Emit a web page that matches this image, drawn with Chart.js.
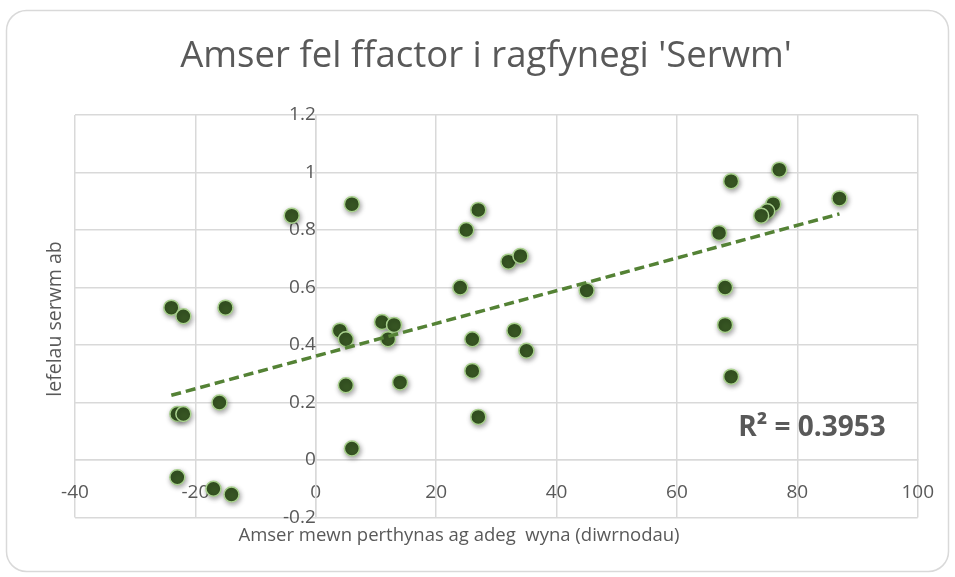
<!DOCTYPE html>
<html>
<head>
<meta charset="utf-8">
<title>Amser fel ffactor i ragfynegi 'Serwm'</title>
<script src="https://cdn.jsdelivr.net/npm/chart.js@4.4.1/dist/chart.umd.min.js"></script>
<style>
  html, body { margin: 0; padding: 0; background: #ffffff; }
  #wrap { position: relative; width: 955px; height: 577px; }
</style>
</head>
<body>
<div id="wrap"><canvas id="chart" width="955" height="577"></canvas></div>
<script>
// Text on the chart
const titleText = "Amser fel ffactor i ragfynegi 'Serwm'";
const xAxisTitle = 'Amser mewn perthynas ag adeg  wyna (diwrnodau)';
const yAxisTitle = 'lefelau serwm ab';
const rSquaredText = 'R\u00B2 = 0.3953';

// Days relative to lambing (x) and serum level (y)
const daysX = [-24, -22, -15, 4, 5, 5, -23, -22, -16, 6,
               -23, -17, -14, -4, 6, 27, 25, 32, 34, 24,
               45, 11, 13, 12, 26, 33, 35, 26, 14, 27,
               69, 77, 76, 75, 74, 87, 67, 68, 68, 69];
const serumY = [0.53, 0.50, 0.53, 0.45, 0.42, 0.26, 0.16, 0.16, 0.20, 0.04,
                -0.06, -0.10, -0.12, 0.85, 0.89, 0.87, 0.80, 0.69, 0.71, 0.60,
                0.59, 0.48, 0.47, 0.42, 0.42, 0.45, 0.38, 0.31, 0.27, 0.15,
                0.97, 1.01, 0.89, 0.865, 0.85, 0.91, 0.79, 0.60, 0.47, 0.29];

// Linear trendline end points
const trendX = [-24, 87];
const trendY = [0.225, 0.856];

// Tick labels
const xTickLabels = ['-40', '-20', '0', '20', '40', '60', '80', '100'];
const yTickLabels = ['-0.2', '0', '0.2', '0.4', '0.6', '0.8', '1', '1.2'];

const textColor = '#595959';
const gridColor = '#d9d9d9';
const fontFamily = "'Open Sans', 'DejaVu Sans', sans-serif";

const scatterPoints = daysX.map((x, i) => ({ x: x, y: serumY[i] }));
const trendPoints = trendX.map((x, i) => ({ x: x, y: trendY[i] }));

// White card with a rounded grey border behind everything
const cardPlugin = {
    id: 'card',
    beforeDraw(chart) {
        const ctx = chart.ctx;
        ctx.save();
        ctx.fillStyle = '#ffffff';
        ctx.fillRect(0, 0, chart.width, chart.height);
        ctx.beginPath();
        ctx.roundRect(6.5, 10.5, 942, 561, 20);
        ctx.strokeStyle = gridColor;
        ctx.lineWidth = 1.5;
        ctx.stroke();
        ctx.restore();
    }
};

// Soft drop shadow under the markers
const shadowPlugin = {
    id: 'markerShadow',
    beforeDatasetDraw(chart, args) {
        if (args.index !== 1) return;
        const ctx = chart.ctx;
        ctx.save();
        ctx.shadowColor = 'rgba(0, 0, 0, 0.35)';
        ctx.shadowBlur = 5;
        ctx.shadowOffsetX = 1;
        ctx.shadowOffsetY = 2;
    },
    afterDatasetDraw(chart, args) {
        if (args.index !== 1) return;
        chart.ctx.restore();
    }
};

// Chart title, axis titles and the R² label
const labelsPlugin = {
    id: 'labels',
    afterDraw(chart) {
        const ctx = chart.ctx;
        ctx.save();
        ctx.fillStyle = textColor;
        ctx.textAlign = 'center';
        ctx.textBaseline = 'alphabetic';

        ctx.font = '36.5px ' + fontFamily;
        ctx.fillText(titleText, 486, 67);

        ctx.font = '18.5px ' + fontFamily;
        ctx.textBaseline = 'middle';
        ctx.fillText(xAxisTitle, 459, 536);

        ctx.save();
        ctx.translate(55, 319);
        ctx.rotate(-Math.PI / 2);
        ctx.font = '19.5px ' + fontFamily;
        ctx.fillText(yAxisTitle, 0, 0);
        ctx.restore();

        ctx.font = 'bold 28px ' + fontFamily;
        ctx.textBaseline = 'alphabetic';
        ctx.fillText(rSquaredText, 812, 436);
        ctx.restore();
    }
};

new Chart(document.getElementById('chart'), {
    type: 'scatter',
    data: {
        datasets: [
            {
                label: 'Trendline',
                data: trendPoints,
                showLine: true,
                borderColor: '#548235',
                borderWidth: 3.5,
                borderDash: [10, 5],
                pointRadius: 0,
                fill: false
            },
            {
                label: 'Serwm',
                data: scatterPoints,
                backgroundColor: '#375623',
                borderColor: '#a9d18e',
                borderWidth: 1.5,
                pointRadius: 7.5,
                pointHoverRadius: 7.5
            }
        ]
    },
    options: {
        responsive: false,
        animation: false,
        layout: {
            padding: { left: 75, right: 35, top: 115, bottom: 59.5 }
        },
        plugins: {
            legend: { display: false },
            tooltip: { enabled: false },
            title: { display: false }
        },
        scales: {
            x: {
                type: 'linear',
                position: { y: 0 },
                min: -40,
                max: 100,
                ticks: {
                    stepSize: 20,
                    padding: 21,
                    color: textColor,
                    font: { family: fontFamily, size: 19 },
                    callback: (value, index) => xTickLabels[index]
                },
                grid: { color: gridColor, lineWidth: 1.5, drawTicks: false },
                border: { display: true, color: gridColor, width: 1.5 }
            },
            y: {
                type: 'linear',
                position: { x: 0 },
                min: -0.2,
                max: 1.2,
                ticks: {
                    stepSize: 0.2,
                    padding: 23,
                    color: textColor,
                    font: { family: fontFamily, size: 19 },
                    callback: (value, index) => yTickLabels[index]
                },
                grid: { color: gridColor, lineWidth: 1.5, drawTicks: false },
                border: { display: true, color: gridColor, width: 1.5 }
            }
        }
    },
    plugins: [cardPlugin, shadowPlugin, labelsPlugin]
});
</script>
</body>
</html>
